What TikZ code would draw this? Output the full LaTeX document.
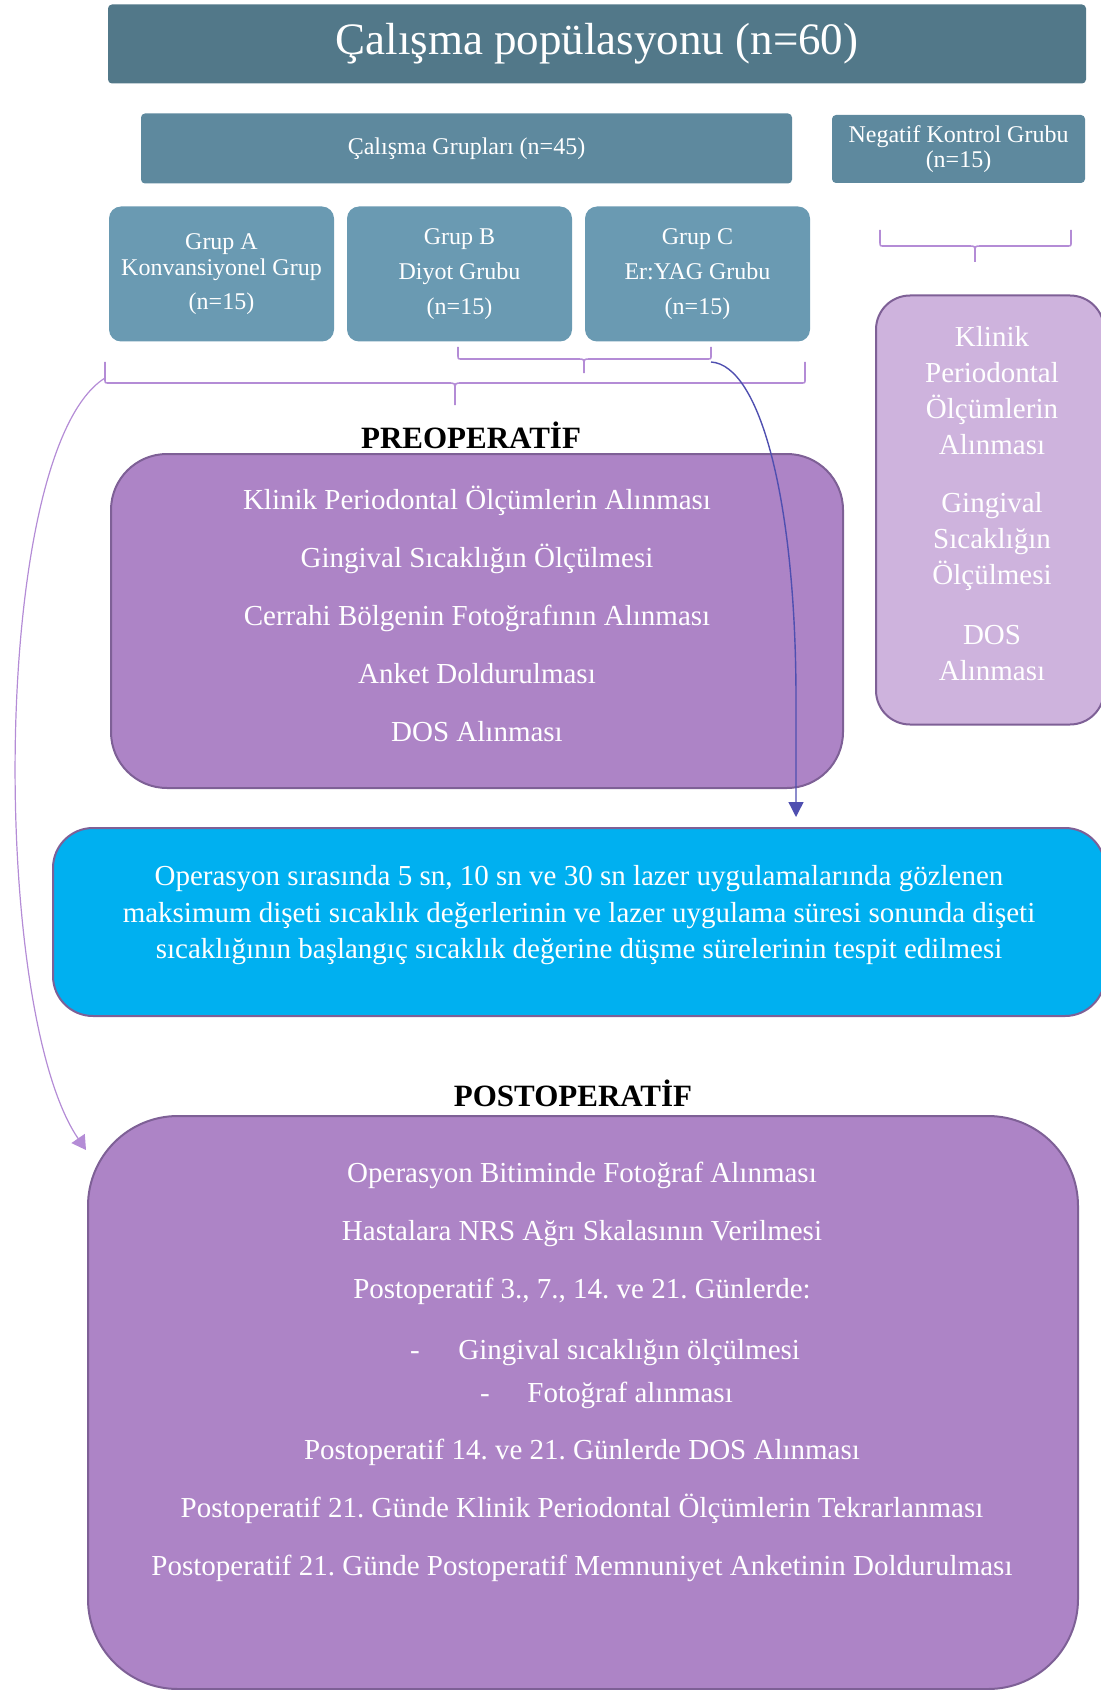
\documentclass[tikz,border=0pt]{standalone}
\usepackage{fontspec}
\setmainfont{Liberation Serif}
\frenchspacing
\usepackage{xcolor}
\definecolor{TitleSlate}{RGB}{82,120,137}
\definecolor{GroupSlate}{RGB}{94,137,158}
\definecolor{GrupBlue}{RGB}{106,154,178}
\definecolor{StagePurple}{RGB}{173,132,198}
\definecolor{StageBorder}{RGB}{126,96,150}
\definecolor{CtrlLilac}{RGB}{206,179,221}
\definecolor{OpsCyan}{RGB}{0,176,240}
\definecolor{BraceLilac}{RGB}{180,140,214}
\definecolor{ArrowIndigo}{RGB}{79,79,176}
\usetikzlibrary{arrows.meta, positioning, calc}
\tikzset{
  % Slate header bars
  titlebar/.style={
    rectangle, rounded corners=2pt,
    fill=TitleSlate, text=white,
    align=center,
    font=\fontsize{22.5}{27}\selectfont
  },
  subbar/.style={
    rectangle, rounded corners=2pt,
    fill=GroupSlate, text=white,
    align=center,
    font=\fontsize{12}{14}\selectfont
  },
  grpbox/.style={
    rectangle, rounded corners=6pt,
    fill=GrupBlue, text=white,
    align=center,
    minimum width=112.5pt, minimum height=67.5pt,
    font=\fontsize{12}{13}\selectfont
  },
  % Stage boxes
  stagebox/.style={rectangle, draw=StageBorder, line width=1pt, fill=StagePurple},
  ctrlbox/.style={stagebox, fill=CtrlLilac},
  opsbox/.style={stagebox, fill=OpsCyan, rounded corners=20pt},
  % Texts
  bodytext/.style={text=white, align=center, inner sep=0pt, font=\fontsize{14.5}{29}\selectfont},
  heading/.style={inner sep=0pt, font=\fontsize{15.5}{18}\selectfont\bfseries},
  % Braces and arrows
  brc/.style={draw=BraceLilac, line width=0.8pt},
  arr/.style={-{Triangle[length=7.5pt,width=7.5pt]}, ArrowIndigo, line width=0.7pt},
  parr/.style={-{Triangle[length=7pt,width=8pt]}, BraceLilac, line width=0.6pt},
}

\begin{document}
\begin{tikzpicture}[x=0.5pt, y=-0.5pt]
  \useasboundingbox (0,0) rectangle (1100,1690);

  %% Population and groups
  \node[titlebar, minimum width=489pt, minimum height=39.5pt]
    (pop) at (597,44) {Çalışma popülasyonu (n=60)};
  \node[subbar, minimum width=325.5pt, minimum height=35pt]
    (study) at (466.5,148.5) {Çalışma Grupları (n=45)};
  \node[subbar, minimum width=126.5pt, minimum height=34pt, font=\fontsize{12}{12.75}\selectfont]
    (negctrl) at (958.5,149) {Negatif Kontrol Grubu\\(n=15)};

  \node[grpbox] (grpA) at (221.5,274) {Grup A\\Konvansiyonel Grup\\[4pt](n=15)};
  \node[grpbox] (grpB) at (459.5,274) {Grup B\\[4.5pt]Diyot Grubu\\[4.5pt](n=15)};
  \node[grpbox] (grpC) at (697.5,274) {Grup C\\[4.5pt]Er:YAG Grubu\\[4.5pt](n=15)};

  %% Braces
  \draw[brc] (458,347) -- (458,355) .. controls (458,359) .. (462,359) -- (578,359)
    .. controls (584,359) .. (584,365) -- (584,373)
    (584,365) .. controls (584,359) .. (590,359) -- (707,359)
    .. controls (711,359) .. (711,355) -- (711,347);
  \draw[brc] (105,362) -- (105,379) .. controls (105,383) .. (109,383) -- (448,383)
    .. controls (455,383) .. (455,390) -- (455,405)
    (455,390) .. controls (455,383) .. (462,383) -- (801,383)
    .. controls (805,383) .. (805,379) -- (805,362);
  \draw[brc] (880,230) -- (880,242) .. controls (880,246) .. (884,246) -- (969,246)
    .. controls (975,246) .. (975,252) -- (975,262)
    (975,252) .. controls (975,246) .. (981,246) -- (1067,246)
    .. controls (1071,246) .. (1071,242) -- (1071,230);

  \coordinate (bcEnd) at (711,362);
  \coordinate (bigEnd) at (105,378);

  %% Preoperative
  \node[stagebox, minimum width=366pt, minimum height=167pt, rounded corners=28pt]
    (pre) at (477,621) {};
  \node[heading, above=2pt of pre.north, xshift=-3pt] (preHead) {PREOPERATİF};
  \node[bodytext] (preTxt) at ($(pre.center)+(0,-7.5)$)
    {Klinik Periodontal Ölçümlerin Alınması\\Gingival Sıcaklığın Ölçülmesi\\
     Cerrahi Bölgenin Fotoğrafının Alınması\\Anket Doldurulması\\DOS Alınması};

  %% Negative control
  \node[ctrlbox, minimum width=114pt, minimum height=214.5pt, rounded corners=17pt]
    (ctrl) at (990,510) {};
  \node[bodytext, font=\fontsize{14.5}{18}\selectfont] (ctrlTxt) at (992,503.5)
    {Klinik\\Periodontal\\Ölçümlerin\\Alınması\\[11pt]Gingival\\Sıcaklığın\\Ölçülmesi\\[12pt]DOS\\Alınması};

  %% Operation
  \node[opsbox, minimum width=526pt, minimum height=94pt] (ops) at (579,922) {};
  \node[bodytext, font=\fontsize{14.5}{18.25}\selectfont] (opsTxt) at (579,915.5)
    {Operasyon sırasında 5 sn, 10 sn ve 30 sn lazer uygulamalarında gözlenen\\
     maksimum dişeti sıcaklık değerlerinin ve lazer uygulama süresi sonunda dişeti\\
     sıcaklığının başlangıç sıcaklık değerine düşme sürelerinin tespit edilmesi};
  \coordinate (opsTip) at (796,817);

  %% Postoperative
  \node[stagebox, minimum width=495pt, minimum height=286.5pt, rounded corners=45pt]
    (post) at (583,1402.5) {};
  \node[heading, above=4pt of post.north, xshift=-5pt] (postHead) {POSTOPERATİF};
  \node[bodytext] (postTop) at (582,1233.5)
    {Operasyon Bitiminde Fotoğraf Alınması\\Hastalara NRS Ağrı Skalasının Verilmesi\\
     Postoperatif 3., 7., 14. ve 21. Günlerde:};
  \node[bodytext, anchor=base] (dash1) at (415,1359) {-};
  \node[bodytext, anchor=base west] (item1) at (458,1359) {Gingival sıcaklığın ölçülmesi};
  \node[bodytext, anchor=base] (dash2) at (485,1402) {-};
  \node[bodytext, anchor=base west] (item2) at (527,1402) {Fotoğraf alınması};
  \node[bodytext] (postBot) at (582,1510.5)
    {Postoperatif 14. ve 21. Günlerde DOS Alınması\\
     Postoperatif 21. Günde Klinik Periodontal Ölçümlerin Tekrarlanması\\
     Postoperatif 21. Günde Postoperatif Memnuniyet Anketinin Doldurulması};
  \coordinate (postTip) at (86,1150);

  %% Arrows
  \draw[arr] (bcEnd) .. controls (760,365) and (796,500) .. (796,700) -- (opsTip);
  \draw[parr] (bigEnd) .. controls (-10,450) and (-10,1010) .. (postTip);

\end{tikzpicture}
\end{document}
